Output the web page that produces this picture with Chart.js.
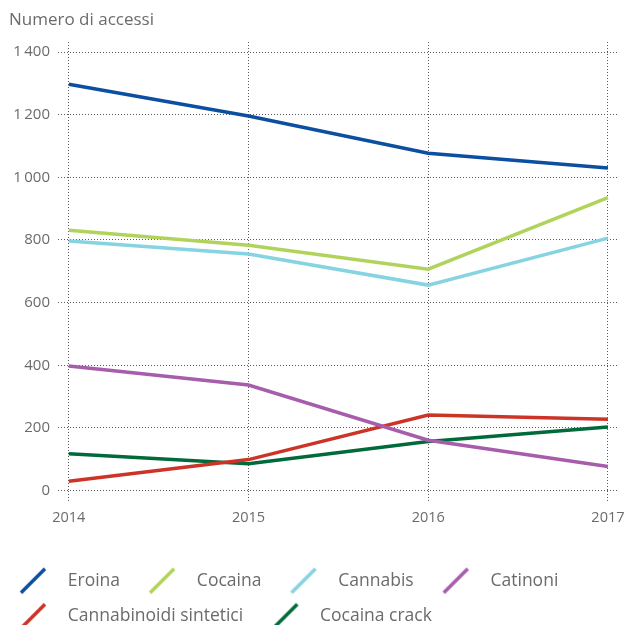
<!DOCTYPE html>
<html>
<head>
<meta charset="utf-8">
<script src="https://cdn.jsdelivr.net/npm/chart.js@4/dist/chart.umd.min.js"></script>
<style>
  html, body { margin: 0; padding: 0; background: #fff; }
  #wrap { width: 624px; height: 625px; }
</style>
</head>
<body>
<div id="wrap"><canvas id="accessChart"></canvas></div>
<script>
'use strict';

/* ── data ── */
const YEARS = [2014, 2015, 2016, 2017];
const Y_TICKS = [0, 200, 400, 600, 800, 1000, 1200, 1400];

const EROINA      = [1297, 1196, 1077, 1030];
const COCAINA     = [831, 783, 707, 935];
const CANNABIS    = [797, 755, 656, 806];
const CATINONI    = [398, 337, 161, 77];
const CANNABINOIDI = [30, 99, 241, 228];
const CRACK       = [118, 86, 157, 203];

const SERIES_NAMES = ['Eroina', 'Cocaina', 'Cannabis', 'Catinoni', 'Cannabinoidi sintetici', 'Cocaina crack'];
const SERIES_VALUES = [EROINA, COCAINA, CANNABIS, CATINONI, CANNABINOIDI, CRACK];
const SERIES_COLORS = ['#0c4ea0', '#b2d35b', '#86d3e1', '#a65dab', '#cd3428', '#006a3a'];

const HEADING = 'Numero di accessi';
const TEXT = '#6b6b6b';
const FONT = "'Open Sans', sans-serif";

/* slash-shaped legend marker */
function slashIcon(color) {
    const c = document.createElement('canvas');
    c.width = 41; c.height = 28;
    const g = c.getContext('2d');
    g.strokeStyle = color;
    g.lineWidth = 3.5;
    g.beginPath();
    g.moveTo(3, 26);
    g.lineTo(27, 2);
    g.stroke();
    return c;
}

const fmtThousands = v => String(v).replace(/\B(?=(\d{3})+(?!\d))/g, '\u2009');

const headingPlugin = {
    id: 'heading',
    afterDraw(chart) {
        const ctx = chart.ctx;
        ctx.save();
        ctx.font = '17px ' + FONT;
        ctx.fillStyle = TEXT;
        ctx.textBaseline = 'middle';
        ctx.textAlign = 'left';
        ctx.fillText(HEADING, 9, 20);
        ctx.restore();
    },
};

const gridStyle = {
    color: '#5a5a5a',
    lineWidth: 1,
    tickBorderDash: [1, 2],
};

new Chart(document.getElementById('accessChart'), {
    type: 'line',
    data: {
        datasets: SERIES_NAMES.map((name, i) => ({
            label: name,
            data: YEARS.map((yr, j) => ({ x: yr, y: SERIES_VALUES[i][j] })),
            borderColor: SERIES_COLORS[i],
            backgroundColor: SERIES_COLORS[i],
            borderWidth: 3.5,
            pointRadius: 0,
            tension: 0,
            fill: false,
            pointStyle: slashIcon(SERIES_COLORS[i]),
        })),
    },
    options: {
        responsive: true,
        maintainAspectRatio: false,
        animation: false,
        layout: { padding: { top: 42, right: 0, left: 0, bottom: -10 } },
        plugins: {
            legend: {
                position: 'bottom',
                align: 'start',
                labels: {
                    usePointStyle: true,
                    pointStyleWidth: 41,
                    padding: 18,
                    color: TEXT,
                    font: { family: FONT, size: 17.5 },
                    generateLabels(chart) {
                        return Chart.defaults.plugins.legend.labels.generateLabels(chart)
                            .map(l => ({ ...l, text: l.text + '  ' }));
                    },
                },
            },
            tooltip: { enabled: false },
        },
        scales: {
            x: {
                type: 'linear',
                min: 2013.94,
                max: 2017.056,
                afterBuildTicks: s => { s.ticks = YEARS.map(v => ({ value: v })); },
                afterFit: s => { s.height += 20; s.paddingRight = 6; s.paddingLeft = 0; },
                ticks: {
                    callback: v => String(v),
                    color: TEXT,
                    font: { family: FONT, size: 14.5 },
                    padding: 7,
                    maxRotation: 0,
                },
                grid: { ...gridStyle, drawTicks: true, tickLength: 12 },
                border: { display: false, dash: [1, 2] },
            },
            y: {
                min: 0,
                max: 1432,
                afterBuildTicks: s => { s.ticks = Y_TICKS.map(v => ({ value: v })); },
                afterFit: s => { s.width = 58; },
                ticks: {
                    callback: v => fmtThousands(v),
                    color: TEXT,
                    font: { family: FONT, size: 15 },
                    padding: 8,
                },
                grid: { ...gridStyle, drawTicks: false },
                border: { display: false, dash: [1, 2] },
            },
        },
    },
    plugins: [headingPlugin],
});
</script>
</body>
</html>
